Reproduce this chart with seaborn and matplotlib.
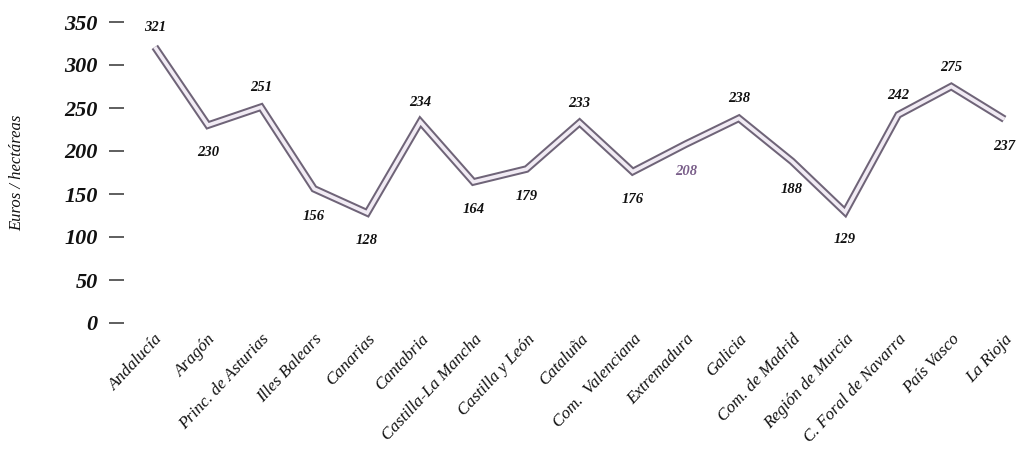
import matplotlib
matplotlib.use("Agg")
import matplotlib.pyplot as plt
import seaborn as sns
import pandas as pd

regions = ["Andalucía", "Aragón", "Princ. de Asturias", "Illes Balears", "Canarias",
           "Cantabria", "Castilla-La Mancha", "Castilla y León", "Cataluña",
           "Com.  Valenciana", "Extremadura", "Galicia", "Com. de Madrid",
           "Región de Murcia", "C. Foral de Navarra", "País Vasco", "La Rioja"]
values = [321, 230, 251, 156, 128, 234, 164, 179, 233, 176, 208, 238, 188, 129, 242, 275, 237]
label_side = ["up", "down", "up", "down", "down", "up", "down", "down", "up", "down",
              "down", "up", "down", "down", "up", "up", "down"]
yticks = [0, 50, 100, 150, 200, 250, 300, 350]

sns.set_theme(style="white")
plt.rcParams["font.family"] = ["Liberation Serif", "DejaVu Serif"]
plt.rcParams["text.color"] = "#111111"

df = pd.DataFrame({"x": range(len(regions)), "v": values})

fig = plt.figure(figsize=(10.19, 4.55), dpi=100)
ax = fig.add_axes([124 / 1019, (455 - 323) / 455, (1015 - 124) / 1019, 301 / 455])

sns.lineplot(data=df, x="x", y="v", ax=ax, color="#6f6478", lw=5.5,
             solid_joinstyle="miter", solid_capstyle="butt")
sns.lineplot(data=df, x="x", y="v", ax=ax, color="#f1ebf4", lw=2.6,
             solid_joinstyle="miter", solid_capstyle="butt")

for i, (v, s) in enumerate(zip(values, label_side)):
    dy = 14 if s == "up" else -20
    col = "#7a5f8a" if regions[i] == "Extremadura" else "#111111"
    ax.annotate(str(v), (i, v), xytext=(0, dy), textcoords="offset points",
                ha="center", va="center", fontsize=10.5, fontweight="bold",
                fontstyle="italic", color=col)

ax.set_xlim(-0.58, 16.2)
ax.set_ylim(0, 350)
ax.set_yticks(yticks)
ax.set_yticklabels([str(t) for t in yticks], fontsize=16, fontweight="bold",
                   fontstyle="italic", color="#111111")
ax.tick_params(axis="y", direction="out", length=11, width=1.1, color="#333333", pad=8,
               left=True)
ax.set_xticks(range(len(regions)))
ax.set_xticklabels(regions, rotation=47, ha="right", rotation_mode="anchor",
                   fontsize=12.3, fontstyle="italic", color="#111111")
ax.tick_params(axis="x", length=0, pad=6)
for sp in ax.spines.values():
    sp.set_visible(False)
ax.set_xlabel("")
ax.set_ylabel("Euros / hectáreas", fontsize=12, fontstyle="italic", labelpad=28,
              color="#111111")
ax.patch.set_alpha(0)

fig.savefig("out.png", dpi=100)
